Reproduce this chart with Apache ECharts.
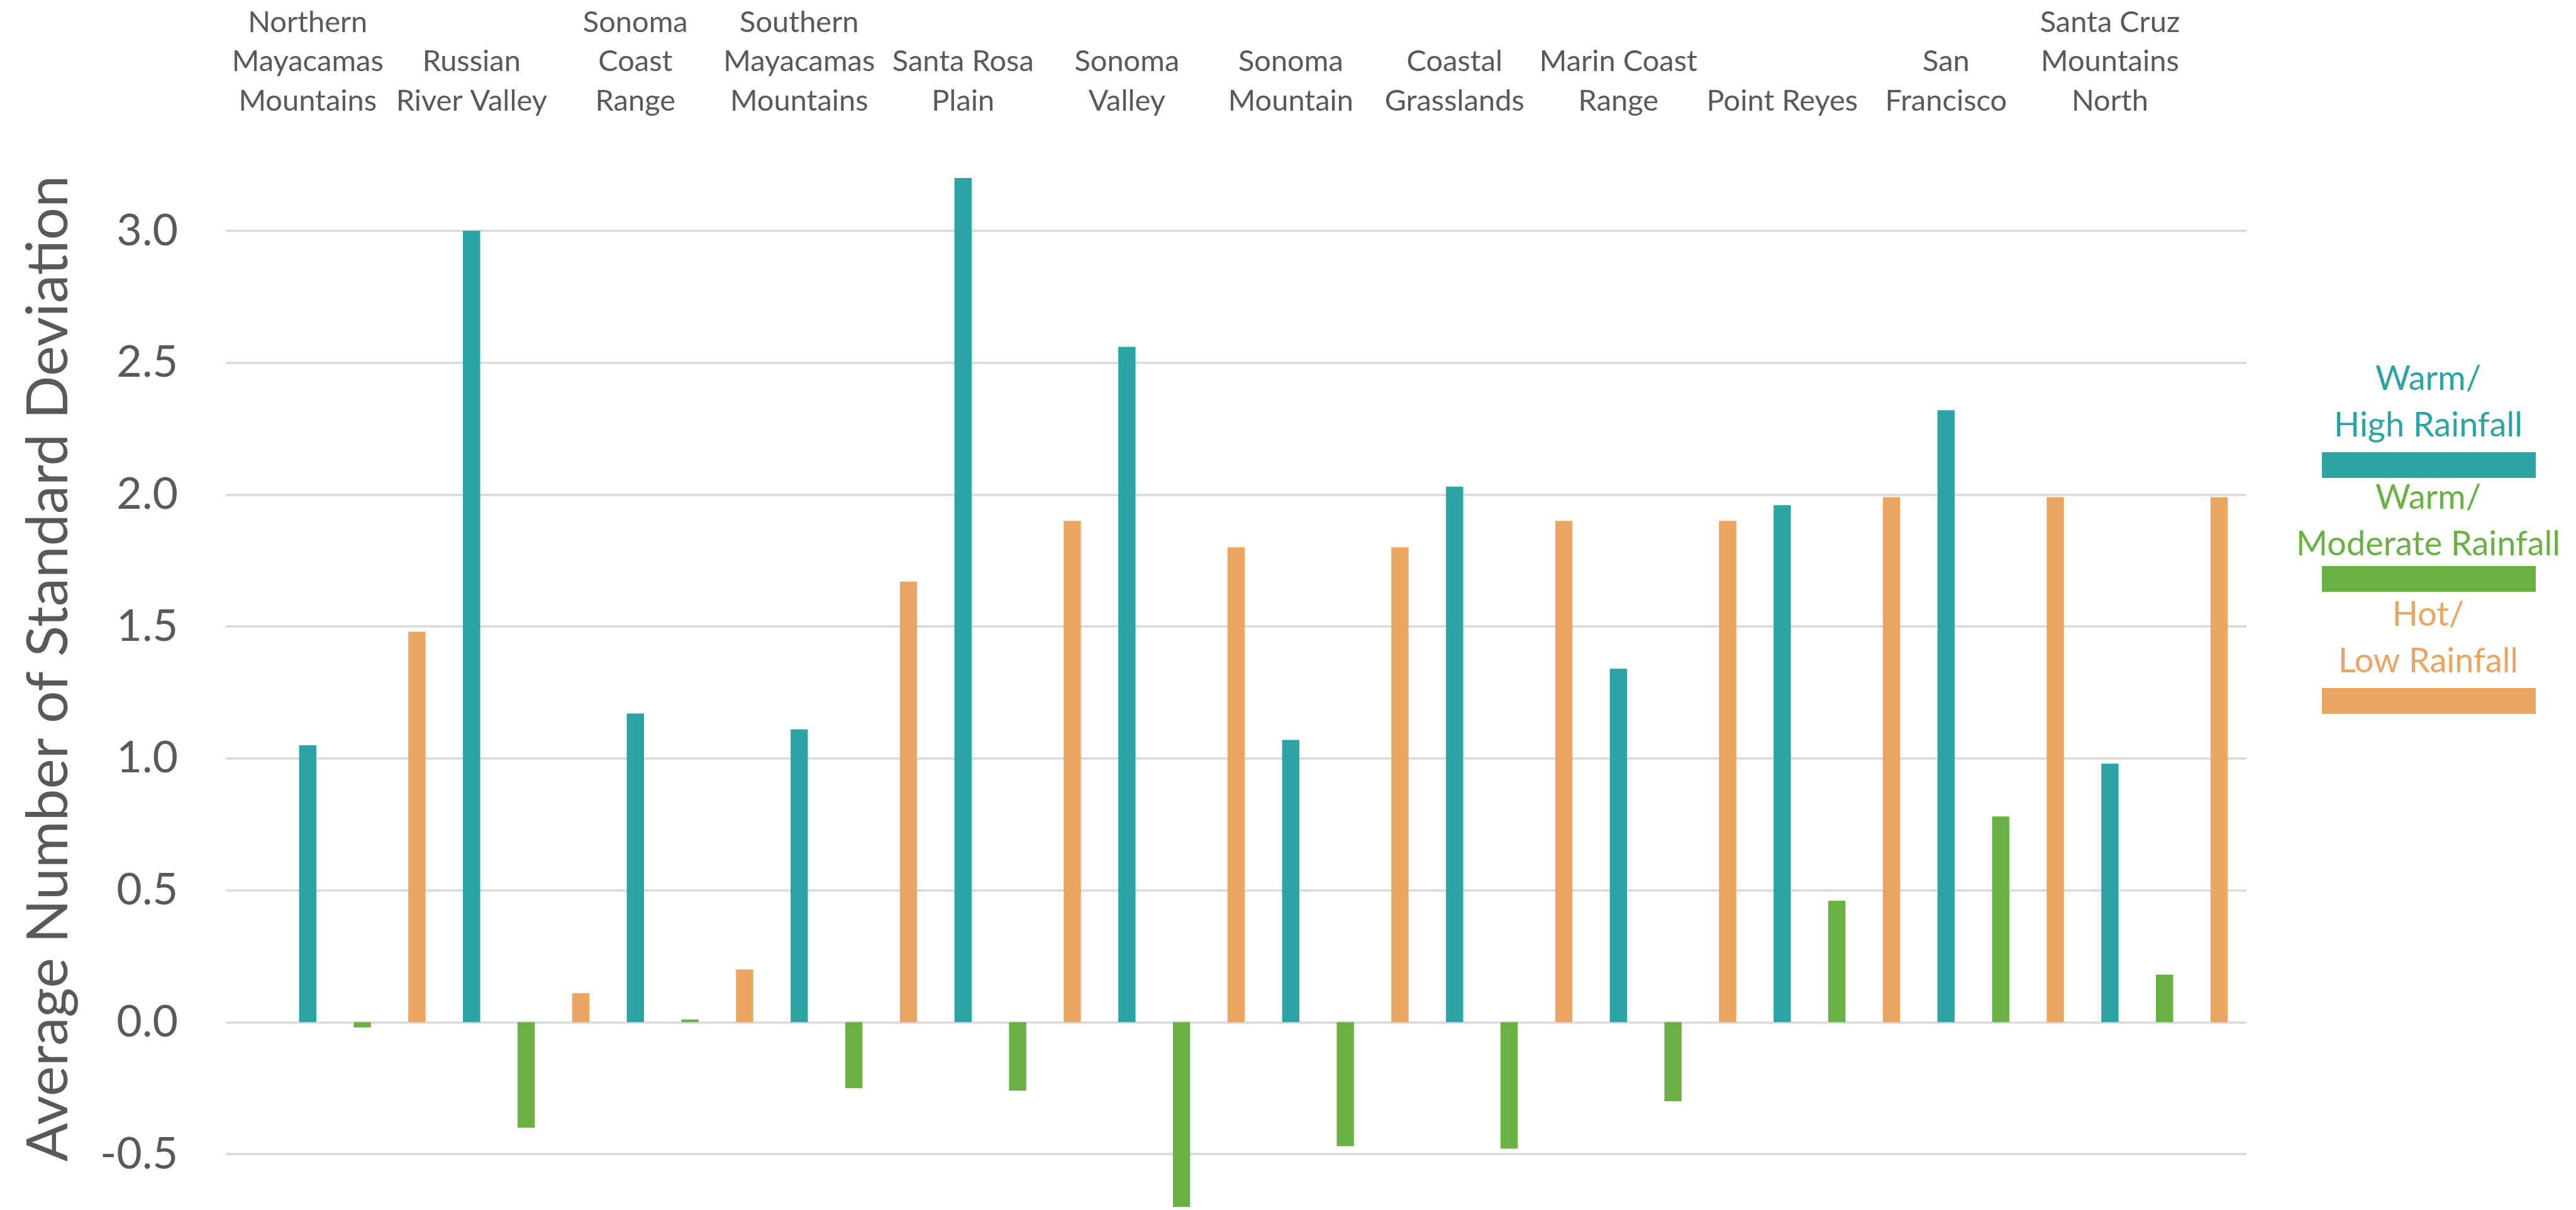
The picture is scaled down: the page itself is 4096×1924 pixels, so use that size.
<!DOCTYPE html>
<html>
<head>
<meta charset="utf-8">
<script src="https://cdn.jsdelivr.net/npm/echarts@6/dist/echarts.min.js"></script>
<style>
  html, body { margin: 0; padding: 0; background: #fff; }
  #chart { width: 4096px; height: 1924px; }
</style>
</head>
<body>
<div id="chart"></div>
<script>
// region names, as split over lines in the original
const regions = [
  'Northern\nMayacamas\nMountains', 'Russian\nRiver Valley', 'Sonoma\nCoast\nRange',
  'Southern\nMayacamas\nMountains', 'Santa Rosa\nPlain', 'Sonoma\nValley',
  'Sonoma\nMountain', 'Coastal\nGrasslands', 'Marin Coast\nRange',
  'Point Reyes', 'San\nFrancisco', 'Santa Cruz\nMountains\nNorth'
]
const warmHigh = [1.05, 3.00, 1.17, 1.11, 3.20, 2.56, 1.07, 2.03, 1.34, 1.96, 2.32, 0.98]
const warmModerate = [-0.02, -0.40, 0.01, -0.25, -0.26, -0.70, -0.47, -0.48, -0.30, 0.46, 0.78, 0.18]
const hotLow = [1.48, 0.11, 0.20, 1.67, 1.90, 1.80, 1.80, 1.90, 1.90, 1.99, 1.99, 1.99]
const yTicks = [-0.5, 0, 0.5, 1.0, 1.5, 2.0, 2.5, 3.0]

const TEAL = '#2ca3a5'
const GREEN = '#6ab145'
const ORANGE = '#eaa560'
const TEXT = '#595959'
const FONT = 'Lato'

// one empty slot in front, then teal / green / orange bar slots for every region
const slotCount = 1 + regions.length * 3
const slots = []
const topLabels = []
const tealData = []
const greenData = []
const orangeData = []
for (let i = 0; i < slotCount; i++) {
  slots.push('s' + i)
  topLabels.push('')
  tealData.push(null)
  greenData.push(null)
  orangeData.push(null)
}
regions.forEach((r, i) => {
  topLabels[1 + i * 3] = r
  tealData[1 + i * 3] = warmHigh[i]
  greenData[2 + i * 3] = warmModerate[i]
  orangeData[3 + i * 3] = hotLow[i]
})

const chart = echarts.init(document.getElementById('chart'), null, { width: 4096, height: 1924 })

const barBase = {
  type: 'bar',
  barWidth: 27.4,
  barGap: '-100%',
  clip: false,
  silent: true
}

const legendItems = [
  { text: 'Warm/\nHigh Rainfall', color: TEAL, textY: 640, rectY: 719 },
  { text: 'Warm/\nModerate Rainfall', color: GREEN, textY: 829, rectY: 900 },
  { text: 'Hot/\nLow Rainfall', color: ORANGE, textY: 1015, rectY: 1094 }
]
const graphic = []
legendItems.forEach(it => {
  graphic.push({
    type: 'text',
    x: 3861,
    y: it.textY,
    style: {
      text: it.text,
      fill: it.color,
      font: '54px ' + FONT,
      lineHeight: 74,
      align: 'center',
      verticalAlign: 'middle'
    }
  })
  graphic.push({
    type: 'rect',
    shape: { x: 3692, y: it.rectY, width: 340, height: 41 },
    style: { fill: it.color }
  })
})

const option = {
  animation: false,
  backgroundColor: '#fff',
  grid: {
    left: 359,
    right: 524,
    top: 367,
    bottom: 89,
    containLabel: false,
    outerBoundsMode: 'none'
  },
  xAxis: [
    {
      type: 'category',
      data: slots,
      axisLine: { show: false },
      axisTick: { show: false },
      axisLabel: { show: false },
      splitLine: { show: false }
    },
    {
      type: 'category',
      position: 'top',
      data: topLabels,
      axisLine: { show: false },
      axisTick: { show: false },
      splitLine: { show: false },
      axisLabel: {
        interval: 0,
        margin: 175,
        color: TEXT,
        fontFamily: FONT,
        fontSize: 47,
        lineHeight: 62.5,
        align: 'center'
      }
    }
  ],
  yAxis: {
    type: 'value',
    min: yTicks[0],
    max: yTicks[yTicks.length - 1],
    interval: 0.5,
    name: 'Average Number of Standard Deviation',
    nameLocation: 'middle',
    nameGap: 236,
    nameRotate: 90,
    nameTextStyle: {
      color: TEXT,
      fontFamily: FONT,
      fontSize: 91,
      padding: [0, 0, 0, 76]
    },
    axisLine: { show: false },
    axisTick: { show: false },
    axisLabel: {
      margin: 76,
      color: TEXT,
      fontFamily: FONT,
      fontSize: 70,
      formatter: v => v.toFixed(1)
    },
    splitLine: { lineStyle: { color: '#d9d9d9', width: 3.5 } }
  },
  series: [
    Object.assign({}, barBase, { name: 'Warm/High Rainfall', data: tealData, itemStyle: { color: TEAL } }),
    Object.assign({}, barBase, { name: 'Warm/Moderate Rainfall', data: greenData, itemStyle: { color: GREEN } }),
    Object.assign({}, barBase, { name: 'Hot/Low Rainfall', data: orangeData, itemStyle: { color: ORANGE } })
  ],
  graphic: graphic
}

chart.setOption(option)
</script>
</body>
</html>
